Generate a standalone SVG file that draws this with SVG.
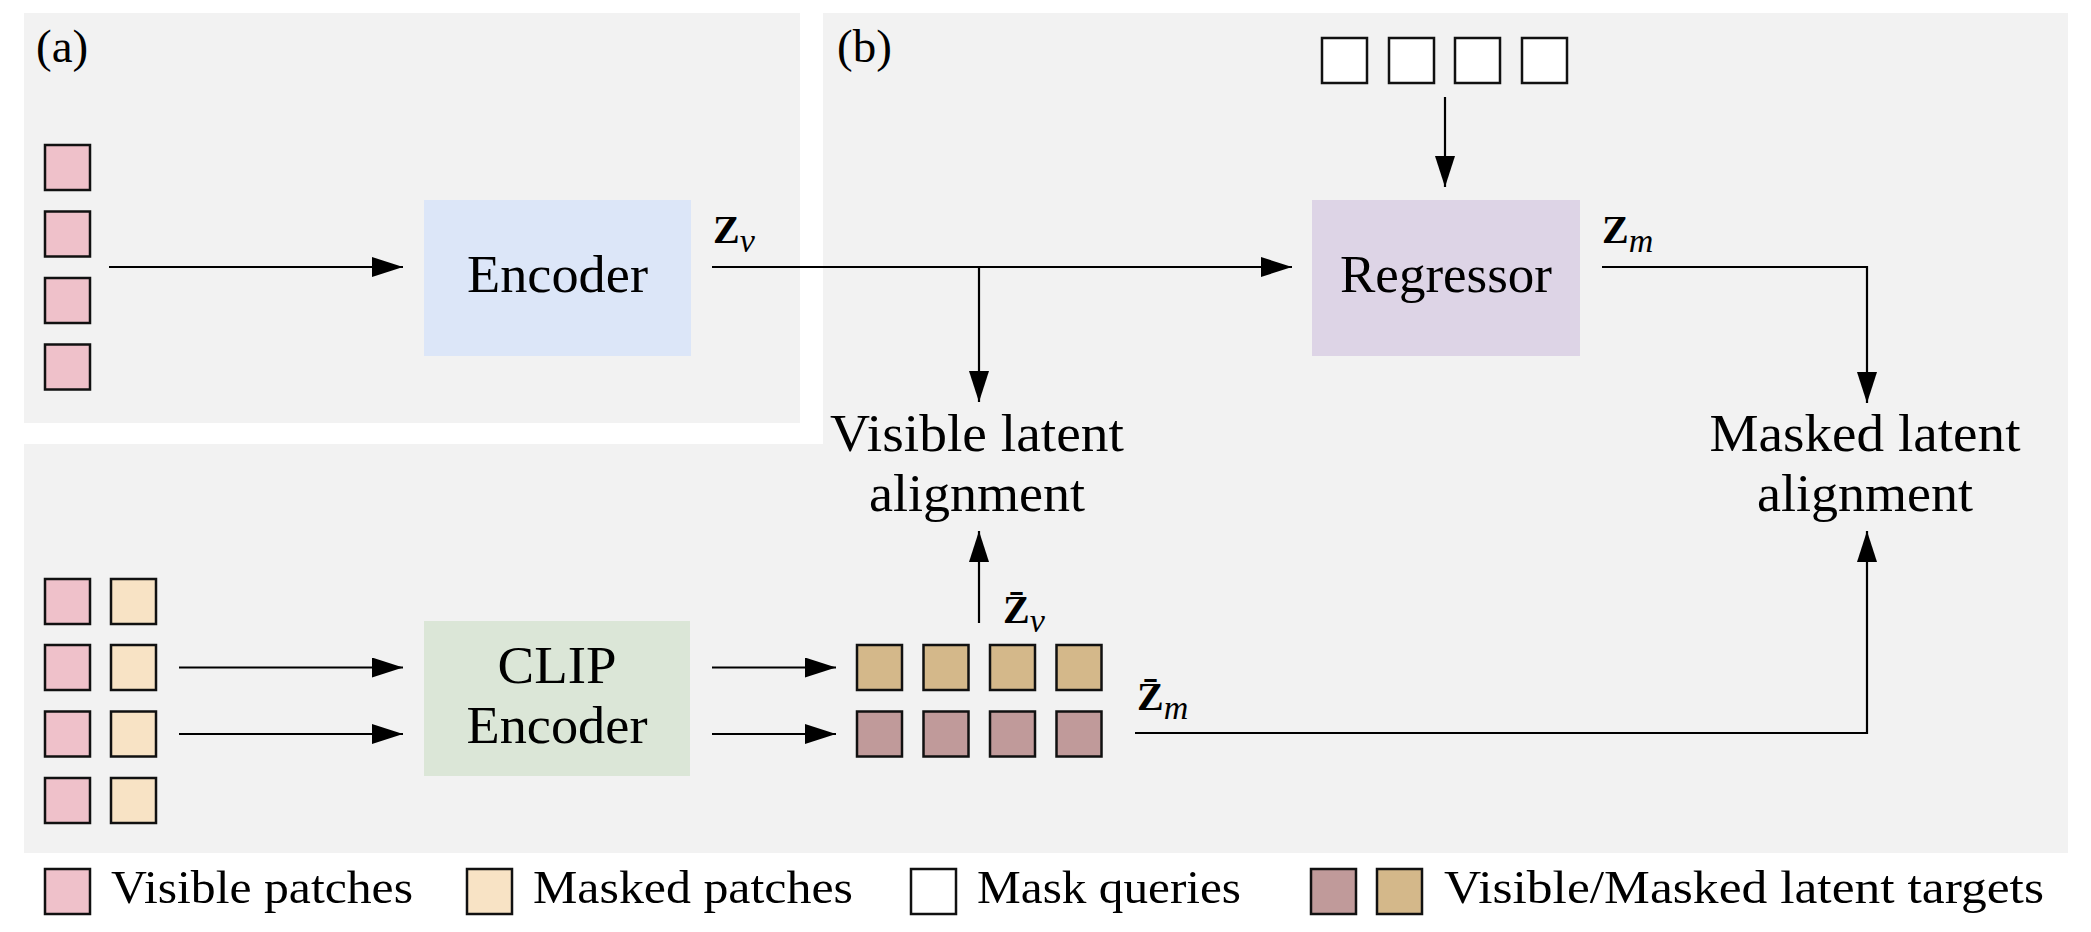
<svg xmlns="http://www.w3.org/2000/svg" width="2091" height="932" viewBox="0 0 2091 932">
<defs>
<style>
.panel{fill:#f2f2f2;}
.sq{stroke:#111;stroke-width:2.5;}
.vis{fill:#efc1ca;}
.msk{fill:#f8e3c5;}
.qry{fill:#ffffff;}
.tv{fill:#c09a9a;}
.tm{fill:#d4b88a;}
.lbl{font-family:"Liberation Serif","Times New Roman",serif;font-size:52px;fill:#000;}
.leg{font-family:"Liberation Serif","Times New Roman",serif;font-size:47px;fill:#000;}
.tag{font-family:"Liberation Serif","Times New Roman",serif;font-size:47px;fill:#000;}
.mz{font-family:"Liberation Serif","Times New Roman",serif;font-size:40px;font-weight:bold;fill:#000;}
.ms{font-family:"Liberation Serif","Times New Roman",serif;font-size:34px;font-style:italic;font-weight:normal;}
.conn{fill:none;stroke:#000;stroke-width:2.2;}
</style>
<marker id="ah" viewBox="0 0 31 20" refX="31" refY="10" markerWidth="31" markerHeight="20" markerUnits="userSpaceOnUse" orient="auto">
<path d="M0,0 L31,10 L0,20 Z" fill="#000"/>
</marker>
</defs>

<g id="backgrounds">
<rect id="panel-a" class="panel" x="24" y="13" width="776" height="410"/>
<path id="panel-b" class="panel" d="M823,13 H2068 V853 H24 V444 H823 Z"/>
<text class="tag" x="36" y="62">(a)</text>
<text class="tag" x="837" y="62">(b)</text>
</g>

<g id="connectors">
<path class="conn" d="M109,267 H403" marker-end="url(#ah)"/>
<path class="conn" d="M712,267 H1292" marker-end="url(#ah)"/>
<path class="conn" d="M979,267 V402" marker-end="url(#ah)"/>
<path class="conn" d="M1445,97 V187" marker-end="url(#ah)"/>
<path class="conn" d="M1602,267 H1867 V403" marker-end="url(#ah)"/>
<path class="conn" d="M179,667.5 H403" marker-end="url(#ah)"/>
<path class="conn" d="M179,734 H403" marker-end="url(#ah)"/>
<path class="conn" d="M712,667.5 H836" marker-end="url(#ah)"/>
<path class="conn" d="M712,734 H836" marker-end="url(#ah)"/>
<path class="conn" d="M979,623 V531" marker-end="url(#ah)"/>
<path class="conn" d="M1135,733 H1867 V531" marker-end="url(#ah)"/>
</g>

<g id="visible-patches-a">
<rect class="sq vis" x="45" y="145" width="45" height="45"/>
<rect class="sq vis" x="45" y="211.5" width="45" height="45"/>
<rect class="sq vis" x="45" y="278" width="45" height="45"/>
<rect class="sq vis" x="45" y="344.5" width="45" height="45"/>
</g>

<g id="encoder">
<rect x="424" y="200" width="267" height="156" fill="#dce6f8"/>
<text class="lbl" x="557.5" y="292" text-anchor="middle" textLength="181" lengthAdjust="spacingAndGlyphs">Encoder</text>
</g>

<g id="label-zv">
<text class="mz" x="713" y="243">Z<tspan class="ms" dy="9">v</tspan></text>
</g>

<g id="mask-queries">
<rect class="sq qry" x="1322" y="38" width="45" height="45"/>
<rect class="sq qry" x="1389" y="38" width="45" height="45"/>
<rect class="sq qry" x="1455" y="38" width="45" height="45"/>
<rect class="sq qry" x="1522" y="38" width="45" height="45"/>
</g>

<g id="regressor">
<rect x="1312" y="200" width="268" height="156" fill="#ddd4e6"/>
<text class="lbl" x="1446" y="292" text-anchor="middle" textLength="212" lengthAdjust="spacingAndGlyphs">Regressor</text>
</g>

<g id="label-zm">
<text class="mz" x="1602" y="243">Z<tspan class="ms" dy="9">m</tspan></text>
</g>

<g id="visible-alignment">
<text class="lbl" x="977" y="451" text-anchor="middle" textLength="294" lengthAdjust="spacingAndGlyphs">Visible latent</text>
<text class="lbl" x="977" y="511" text-anchor="middle" textLength="216" lengthAdjust="spacingAndGlyphs">alignment</text>
</g>

<g id="masked-alignment">
<text class="lbl" x="1865" y="451" text-anchor="middle" textLength="311" lengthAdjust="spacingAndGlyphs">Masked latent</text>
<text class="lbl" x="1865" y="511" text-anchor="middle" textLength="216" lengthAdjust="spacingAndGlyphs">alignment</text>
</g>

<g id="input-patches-b">
<rect class="sq vis" x="45" y="579" width="45" height="45"/>
<rect class="sq vis" x="45" y="645" width="45" height="45"/>
<rect class="sq vis" x="45" y="711.5" width="45" height="45"/>
<rect class="sq vis" x="45" y="778" width="45" height="45"/>
<rect class="sq msk" x="111" y="579" width="45" height="45"/>
<rect class="sq msk" x="111" y="645" width="45" height="45"/>
<rect class="sq msk" x="111" y="711.5" width="45" height="45"/>
<rect class="sq msk" x="111" y="778" width="45" height="45"/>
</g>

<g id="clip-encoder">
<rect x="424" y="621" width="266" height="155" fill="#dbe6d7"/>
<text class="lbl" x="557" y="683" text-anchor="middle" textLength="119" lengthAdjust="spacingAndGlyphs">CLIP</text>
<text class="lbl" x="557" y="743" text-anchor="middle" textLength="181" lengthAdjust="spacingAndGlyphs">Encoder</text>
</g>

<g id="latent-targets">
<rect class="sq tm" x="857" y="645" width="45" height="45"/>
<rect class="sq tm" x="923.5" y="645" width="45" height="45"/>
<rect class="sq tm" x="990" y="645" width="45" height="45"/>
<rect class="sq tm" x="1056.5" y="645" width="45" height="45"/>
<rect class="sq tv" x="857" y="711.5" width="45" height="45"/>
<rect class="sq tv" x="923.5" y="711.5" width="45" height="45"/>
<rect class="sq tv" x="990" y="711.5" width="45" height="45"/>
<rect class="sq tv" x="1056.5" y="711.5" width="45" height="45"/>
</g>

<g id="label-zbar-v">
<text class="mz" x="1003" y="623">Z&#x304;<tspan class="ms" dy="9">v</tspan></text>
</g>

<g id="label-zbar-m">
<text class="mz" x="1137" y="710">Z&#x304;<tspan class="ms" dy="9">m</tspan></text>
</g>

<g id="legend">
<rect class="sq vis" x="45" y="869" width="45" height="45"/>
<text class="leg" x="111" y="903" textLength="302" lengthAdjust="spacingAndGlyphs">Visible patches</text>
<rect class="sq msk" x="467" y="869" width="45" height="45"/>
<text class="leg" x="533" y="903" textLength="320" lengthAdjust="spacingAndGlyphs">Masked patches</text>
<rect class="sq qry" x="911" y="869" width="45" height="45"/>
<text class="leg" x="977" y="903" textLength="264" lengthAdjust="spacingAndGlyphs">Mask queries</text>
<rect class="sq tv" x="1311" y="869" width="45" height="45"/>
<rect class="sq tm" x="1377" y="869" width="45" height="45"/>
<text class="leg" x="1444" y="903" textLength="600" lengthAdjust="spacingAndGlyphs">Visible/Masked latent targets</text>
</g>
</svg>
